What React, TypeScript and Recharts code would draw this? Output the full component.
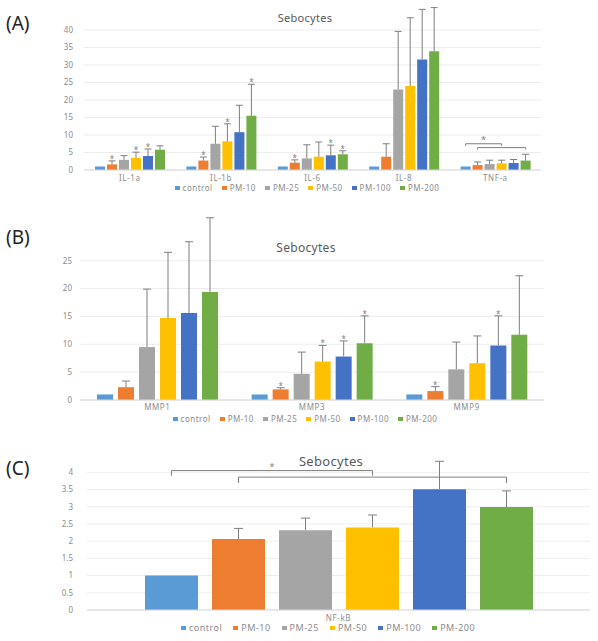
import React from 'react';
import { BarChart, Bar, XAxis, YAxis, CartesianGrid, LabelList } from 'recharts';

// treatment groups, same order and colours in all three panels
const groups = ['control', 'PM-10', 'PM-25', 'PM-50', 'PM-100', 'PM-200'];
const groupColors = ['#5b9bd5', '#ed7d31', '#a5a5a5', '#ffc000', '#4472c4', '#70ad47'];

// (A) cytokines — rows follow `groups`, columns follow `cytokines`
const cytokines = ['IL-1a', 'IL-1b', 'IL-6', 'IL-8', 'TNF-a'];
const cytokineMean = [
  [1, 1, 1, 1, 1],
  [1.6, 2.7, 2.1, 3.8, 1.4],
  [2.9, 7.5, 3.3, 23.0, 1.7],
  [3.5, 8.2, 3.8, 24.0, 1.9],
  [4.0, 10.8, 4.2, 31.6, 2.0],
  [5.8, 15.5, 4.5, 33.9, 2.7],
];
const cytokineErr = [
  [0, 0, 0, 0, 0],
  [1.0, 1.0, 0.8, 3.7, 0.9],
  [1.2, 5.0, 3.9, 16.6, 1.1],
  [1.6, 5.0, 4.2, 19.5, 0.9],
  [2.0, 7.7, 2.9, 14.3, 1.0],
  [1.1, 9.0, 1.0, 12.5, 1.8],
];
const cytokineSig = [
  [0, 0, 0, 0, 0],
  [1, 1, 1, 0, 0],
  [0, 0, 0, 0, 0],
  [1, 1, 0, 0, 0],
  [1, 0, 1, 0, 0],
  [0, 1, 1, 0, 0],
];
const cytokineTicks = [0, 5, 10, 15, 20, 25, 30, 35, 40];
// brackets over TNF-a: group index from → to, height and drop in data units
const tnfBrackets = [
  { from: 0, to: 3, y: 7.5, drop: 0.6, star: true },
  { from: 1, to: 5, y: 6.4, drop: 0.5, star: false },
];

// (B) MMPs
const mmps = ['MMP1', 'MMP3', 'MMP9'];
const mmpMean = [
  [1, 1, 1],
  [2.3, 1.9, 1.6],
  [9.5, 4.7, 5.5],
  [14.7, 6.9, 6.6],
  [15.6, 7.8, 9.8],
  [19.4, 10.2, 11.7],
];
const mmpErr = [
  [0, 0, 0],
  [1.1, 0.3, 0.8],
  [10.4, 3.9, 4.9],
  [11.8, 2.9, 4.9],
  [12.8, 2.8, 5.3],
  [13.3, 4.9, 10.6],
];
const mmpSig = [
  [0, 0, 0],
  [0, 1, 1],
  [0, 0, 0],
  [0, 1, 0],
  [0, 1, 1],
  [0, 1, 0],
];
const mmpTicks = [0, 5, 10, 15, 20, 25];

// (C) NF-kB
const nfkb = ['NF-kB'];
const nfkbMean = [[1], [2.06], [2.32], [2.4], [3.51], [2.99]];
const nfkbErr = [[0], [0.31], [0.35], [0.36], [0.81], [0.47]];
const nfkbSig = [[0], [0], [0], [0], [0], [0]];
const nfkbTicks = [0, 0.5, 1, 1.5, 2, 2.5, 3, 3.5, 4];
const nfkbBrackets = [
  { from: 0, to: 3, y: 4.05, drop: 0.15, star: true },
  { from: 1, to: 5, y: 3.86, drop: 0.17, star: false },
];

const FONT = "'Noto Sans', 'Noto Sans CJK KR', sans-serif";
const GREY = '#7f7f7f';

type Bracket = { from: number; to: number; y: number; drop: number; star: boolean };

const buildRows = (cats: string[], mean: number[][], err: number[][], sig: number[][]) =>
  cats.map((name, c) => {
    const row: any = { name };
    groups.forEach((_, g) => {
      row[`m${g}`] = mean[g][c];
      row[`e${g}`] = err[g][c];
      row[`s${g}`] = sig[g][c];
    });
    return row;
  });

// plus-direction error bar drawn as the stacked segment above each bar;
// the segment of a bracket's right-hand bar also draws that bracket
const makeErrShape = (g: number, cap: number, barGap: number, brackets: Bracket[], bracketCat: number) => (props: any) => {
  const { x, y, width, height, index, payload } = props;
  const cx = x + width / 2;
  const parts: React.ReactNode[] = [];
  if (height > 0) {
    parts.push(<line key="v" x1={cx} x2={cx} y1={y} y2={y + height} stroke={GREY} strokeWidth={1} />);
    parts.push(<line key="c" x1={cx - cap} x2={cx + cap} y1={y} y2={y} stroke={GREY} strokeWidth={1} />);
    if (index === bracketCat) {
      const k = height / payload[`e${g}`];
      const meanPx = y + height;
      brackets
        .filter((b) => b.to === g)
        .forEach((b, n) => {
          const x0 = cx - (b.to - b.from) * (width + barGap);
          const by = meanPx - (b.y - payload[`m${g}`]) * k;
          const dp = b.drop * k;
          parts.push(
            <path
              key={`b${n}`}
              d={`M${x0},${by + dp}V${by}H${cx}V${by + dp}`}
              fill="none"
              stroke={GREY}
              strokeWidth={1}
            />
          );
          if (b.star)
            parts.push(
              <text key={`s${n}`} x={(x0 + cx) / 2} y={by - 1} textAnchor="middle" fontSize={9} fill={GREY} fontFamily={FONT}>
                *
              </text>
            );
        });
    }
  }
  return <g>{parts}</g>;
};

const makeStar = (fs: number) => (props: any) => {
  const { x, y, width, value } = props;
  if (!value) return null;
  return (
    <text x={x + width / 2} y={y + 1} textAnchor="middle" fontSize={fs} fill={GREY} fontFamily={FONT}>
      *
    </text>
  );
};

type PanelProps = {
  label: string;
  top: number;
  height: number;
  rows: any[];
  ticks: number[];
  plotBottom: number;
  tickSpanPx: number;
  margin: { right: number; bottom: number; left: number };
  yWidth: number;
  yTickMargin: number;
  xTickSize: number;
  barSize: number;
  barGap: number;
  cap: number;
  brackets?: Bracket[];
  bracketCat?: number;
  title: { x: number; y: number; size: number };
  legend: { x: number; y: number; size: number; gap: number };
  labelTop: number;
};

const Panel = (p: PanelProps) => {
  const star = makeStar(8);
  // the value axis runs to the highest error bar; the last tick sits where the reference puts it
  const dataMax = Math.max(...p.rows.flatMap((r) => groups.map((_, g) => r[`m${g}`] + r[`e${g}`])));
  const tickMax = p.ticks[p.ticks.length - 1];
  const plotH = (p.tickSpanPx * dataMax) / tickMax;
  const marginTop = p.plotBottom - plotH;
  return (
    <div style={{ position: 'absolute', left: 0, top: p.top, width: 598, height: p.height }}>
      <div style={{ position: 'absolute', left: 6, top: p.labelTop, fontSize: 19, color: '#222', fontFamily: FONT }}>
        {p.label}
      </div>
      <BarChart
        width={598}
        height={p.height}
        data={p.rows}
        margin={{ top: marginTop, right: p.margin.right, bottom: p.margin.bottom, left: p.margin.left }}
        barSize={p.barSize}
        barGap={p.barGap}
      >
        <CartesianGrid vertical={false} horizontalValues={p.ticks} stroke="#ededed" />
        <XAxis
          dataKey="name"
          tickLine={false}
          axisLine={{ stroke: '#d9d9d9' }}
          tickSize={p.xTickSize}
          tickMargin={2}
          height={20}
          interval={0}
          tick={{ fontSize: 8, fill: '#8c8c8c', fontFamily: FONT, letterSpacing: 0.6 }}
        />
        <YAxis
          type="number"
          scale="linear"
          domain={[0, dataMax]}
          ticks={p.ticks}
          width={p.yWidth}
          axisLine={false}
          tickLine={false}
          tickMargin={p.yTickMargin}
          interval={0}
          tick={{ fontSize: 8, fill: '#8c8c8c', fontFamily: FONT }}
        />
        {groups.map((g, i) => [
          <Bar key={`m${i}`} dataKey={`m${i}`} stackId={`s${i}`} fill={groupColors[i]} isAnimationActive={false} />,
          <Bar
            key={`e${i}`}
            dataKey={`e${i}`}
            stackId={`s${i}`}
            fill="none"
            shape={makeErrShape(i, p.cap, p.barGap, p.brackets || [], p.bracketCat ?? -1)}
            isAnimationActive={false}
          >
            <LabelList dataKey={`s${i}`} content={star} />
          </Bar>,
        ])}
      </BarChart>
      <div
        style={{
          position: 'absolute',
          left: p.title.x - 100,
          width: 200,
          top: p.title.y - p.title.size * 0.72,
          textAlign: 'center',
          fontSize: p.title.size,
          color: '#595959',
          fontFamily: FONT,
          letterSpacing: 0.3,
        }}
      >
        Sebocytes
      </div>
      <div
        style={{
          position: 'absolute',
          left: p.legend.x - 200,
          width: 400,
          top: p.legend.y - p.legend.size * 0.7,
          display: 'flex',
          justifyContent: 'center',
          gap: p.legend.gap,
          fontSize: p.legend.size,
          color: '#8c8c8c',
          fontFamily: FONT,
          letterSpacing: 0.5,
          lineHeight: `${p.legend.size * 1.4}px`,
        }}
      >
        {groups.map((g, i) => (
          <span key={g} style={{ display: 'flex', alignItems: 'center' }}>
            <span style={{ display: 'inline-block', width: 5, height: 4, background: groupColors[i], marginRight: 3 }} />
            {g}
          </span>
        ))}
      </div>
    </div>
  );
};

export default function App() {
  return (
    <div style={{ position: 'absolute', left: 0, top: 0, width: 598, height: 641, background: '#fff', overflow: 'hidden' }}>
      <Panel
        label="(A)"
        top={0}
        height={200}
        rows={buildRows(cytokines, cytokineMean, cytokineErr, cytokineSig)}
        ticks={cytokineTicks}
        plotBottom={170}
        tickSpanPx={140}
        margin={{ right: 57, bottom: 10, left: 60 }}
        yWidth={24}
        yTickMargin={5}
        xTickSize={3}
        barSize={10}
        barGap={2}
        cap={3.5}
        brackets={tnfBrackets}
        bracketCat={4}
        title={{ x: 305, y: 18, size: 11 }}
        legend={{ x: 307, y: 188, size: 8, gap: 9 }}
        labelTop={10}
      />
      <Panel
        label="(B)"
        top={200}
        height={230}
        rows={buildRows(mmps, mmpMean, mmpErr, mmpSig)}
        ticks={mmpTicks}
        plotBottom={200}
        tickSpanPx={139.3}
        margin={{ right: 54, bottom: 10, left: 56 }}
        yWidth={24}
        yTickMargin={2}
        xTickSize={2}
        barSize={16}
        barGap={5}
        cap={4}
        title={{ x: 306, y: 48, size: 12 }}
        legend={{ x: 305, y: 219, size: 8, gap: 9 }}
        labelTop={24}
      />
      <Panel
        label="(C)"
        top={430}
        height={211}
        rows={buildRows(nfkb, nfkbMean, nfkbErr, nfkbSig)}
        ticks={nfkbTicks}
        plotBottom={180}
        tickSpanPx={137.7}
        margin={{ right: 8, bottom: 11, left: 57 }}
        yWidth={30}
        yTickMargin={8}
        xTickSize={3}
        barSize={53}
        barGap={14}
        cap={4.5}
        brackets={nfkbBrackets}
        bracketCat={0}
        title={{ x: 331, y: 31, size: 13 }}
        legend={{ x: 328, y: 198, size: 9, gap: 11 }}
        labelTop={25}
      />
    </div>
  );
}
